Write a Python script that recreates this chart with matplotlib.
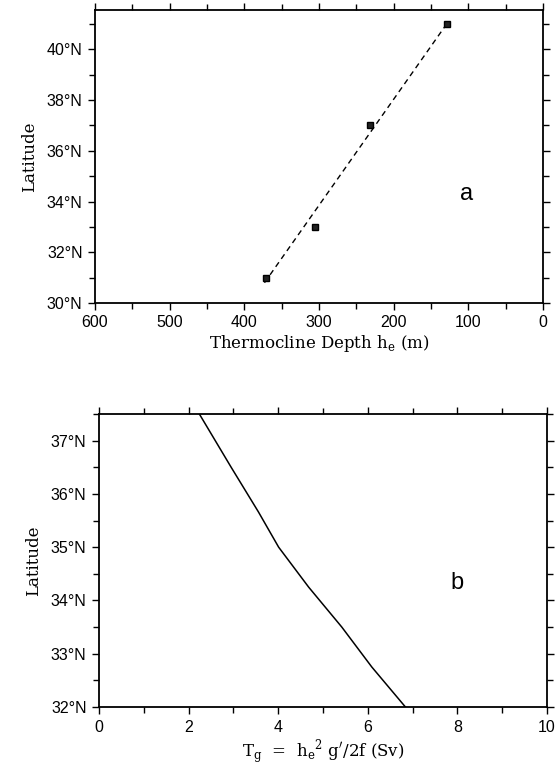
import numpy as np
import matplotlib
matplotlib.use("Agg")
import matplotlib.pyplot as plt
from matplotlib.ticker import MultipleLocator, FuncFormatter

# Panel a: observed thermocline depth vs latitude
depth_obs = [371, 305, 232, 129]
lat_obs = [31, 33, 37, 41]
# dashed fit line endpoints
fit_depth = [373, 129]
fit_lat = [30.8, 41.0]

# Panel b: transport vs latitude
lat_b = [32.0, 32.75, 33.5, 34.25, 35.0, 35.66, 36.5, 37.5]
tg_b = [6.84, 6.09, 5.42, 4.68, 4.01, 3.56, 2.95, 2.24]

W, H = 560, 765
fig = plt.figure(figsize=(W / 100, H / 100), dpi=100)

serif = ["DejaVu Serif"]
sans = ["Liberation Sans", "DejaVu Sans"]

def latfmt(v, pos):
    return f"{int(round(v))}°N"

def style(ax):
    for s in ax.spines.values():
        s.set_linewidth(1.3)
    ax.tick_params(which="both", direction="out", top=True, right=True,
                   labeltop=False, labelright=False, width=1.0)
    ax.tick_params(which="major", length=5, pad=4)
    ax.tick_params(which="minor", length=4)
    for lab in ax.get_xticklabels() + ax.get_yticklabels():
        lab.set_fontfamily(sans)
        lab.set_fontsize(11.5)

# Panel a
ax1 = fig.add_axes([95 / W, 1 - 303 / H, (543 - 95) / W, (303 - 10) / H])
ax1.plot(fit_depth, fit_lat, ls=(0, (4, 3)), color="black", lw=1.0)
ax1.plot(depth_obs, lat_obs, ls="none", marker="s", ms=5,
         mfc="#222222", mec="black", mew=1.0)
ax1.set_xlim(600, 0)
ax1.set_ylim(30, 41.55)
ax1.xaxis.set_major_locator(MultipleLocator(100))
ax1.xaxis.set_minor_locator(MultipleLocator(50))
ax1.yaxis.set_major_locator(MultipleLocator(2))
ax1.yaxis.set_minor_locator(MultipleLocator(1))
ax1.yaxis.set_major_formatter(FuncFormatter(latfmt))
style(ax1)
ax1.set_ylabel("Latitude", fontfamily=serif, fontsize=12, labelpad=6)
ax1.set_xlabel(r"Thermocline Depth h$_{\mathregular{e}}$ (m)", fontfamily=serif,
               fontsize=12, labelpad=2)
ax1.text(103, 34.3, "a", fontfamily=sans, fontsize=17, ha="center", va="center")

# Panel b
ax2 = fig.add_axes([99 / W, 1 - 707 / H, (547 - 99) / W, (707 - 414) / H])
ax2.plot(tg_b, lat_b, color="black", lw=1.1)
ax2.set_xlim(0, 10)
ax2.set_ylim(32, 37.5)
ax2.xaxis.set_major_locator(MultipleLocator(2))
ax2.xaxis.set_minor_locator(MultipleLocator(1))
ax2.yaxis.set_major_locator(MultipleLocator(1))
ax2.yaxis.set_minor_locator(MultipleLocator(0.5))
ax2.yaxis.set_major_formatter(FuncFormatter(latfmt))
style(ax2)
ax2.set_ylabel("Latitude", fontfamily=serif, fontsize=12, labelpad=6)
ax2.set_xlabel(r"T$_{\mathregular{g}}$  =  h$_{\mathregular{e}}$$^{\mathregular{2}}$ g$'$/2f (Sv)",
               fontfamily=serif, fontsize=12, labelpad=2)
ax2.text(8.0, 34.33, "b", fontfamily=sans, fontsize=17, ha="center", va="center")

fig.savefig("out.png", dpi=100)
